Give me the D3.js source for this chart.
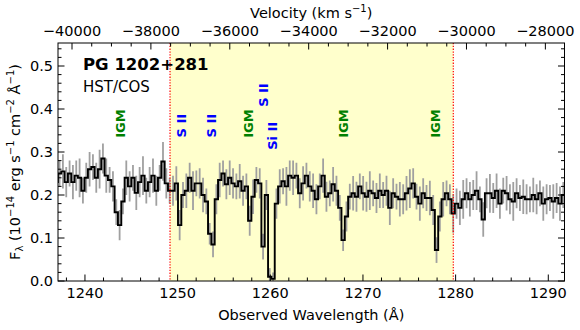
<!DOCTYPE html>
<html>
<head>
<meta charset="utf-8">
<script src="https://cdn.jsdelivr.net/npm/d3@7"></script>
<style>
  body { margin: 0; background: #fff; }
  text { font-family: "DejaVu Sans", sans-serif; fill: #000; }
</style>
</head>
<body>
<svg id="chart" width="580" height="330"></svg>
<script>
// flux binned on a regular wavelength grid
const lamStart = 1236.9, lamStep = 0.36;
const flux = [
  0.23, 0.25, 0.255, 0.23, 0.25, 0.23, 0.245, 0.24, 0.21, 0.24,
  0.26, 0.265, 0.24, 0.26, 0.285, 0.245, 0.235, 0.22, 0.16, 0.13,
  0.185, 0.24, 0.22, 0.24, 0.205, 0.23, 0.245, 0.21, 0.23, 0.245,
  0.21, 0.24, 0.278, 0.227, 0.21, 0.21, 0.227, 0.13, 0.2, 0.21,
  0.24, 0.21, 0.227, 0.227, 0.2, 0.185, 0.11, 0.085, 0.19, 0.235,
  0.25, 0.225,
  0.24, 0.227, 0.22, 0.232, 0.21, 0.22, 0.14, 0.196, 0.235, 0.227,
  0.08, 0.2, 0.01, 0.005,
  0.18, 0.22, 0.232, 0.22, 0.245, 0.24, 0.245, 0.204, 0.227, 0.245,
  0.22, 0.21, 0.19, 0.22, 0.245, 0.196, 0.204, 0.225, 0.21, 0.17,
  0.095, 0.15, 0.196, 0.204, 0.196, 0.22, 0.204, 0.196, 0.21, 0.204,
  0.193, 0.21, 0.2, 0.21, 0.17, 0.204, 0.196, 0.19,
  0.19, 0.204, 0.215, 0.227, 0.196, 0.18, 0.204, 0.193, 0.193, 0.165,
  0.072, 0.15, 0.19, 0.204, 0.19, 0.157, 0.18, 0.17, 0.19, 0.204,
  0.19, 0.2, 0.21, 0.19, 0.143, 0.204, 0.204, 0.193, 0.21, 0.18,
  0.21, 0.204, 0.19, 0.185, 0.204, 0.193, 0.196, 0.19, 0.19, 0.2,
  0.19, 0.204, 0.18, 0.19, 0.193, 0.185, 0.193, 0.18, 0.2, 0.196
];
const err = [
  0.035, 0.03, 0.04, 0.035, 0.03, 0.04, 0.035, 0.045, 0.03, 0.035,
  0.04, 0.03, 0.035, 0.045, 0.035, 0.04, 0.03, 0.035, 0.03, 0.035,
  0.03, 0.04, 0.035, 0.03, 0.04, 0.035, 0.045, 0.03, 0.035, 0.04,
  0.035, 0.03, 0.045, 0.035, 0.03, 0.035, 0.04, 0.035, 0.03, 0.04,
  0.035, 0.045, 0.03, 0.035, 0.04, 0.03, 0.025, 0.03, 0.035, 0.04,
  0.03, 0.035,
  0.04, 0.035, 0.03, 0.04, 0.035, 0.03, 0.035, 0.04, 0.03, 0.035,
  0.03, 0.035, 0.02, 0.015,
  0.035, 0.04, 0.03, 0.045, 0.035, 0.04, 0.03, 0.035, 0.04, 0.03,
  0.035, 0.04, 0.035, 0.03, 0.04, 0.035, 0.03, 0.04, 0.035, 0.03,
  0.025, 0.035, 0.03, 0.04, 0.035, 0.03, 0.04, 0.035, 0.045, 0.03,
  0.035, 0.04, 0.03, 0.035, 0.04, 0.035, 0.03, 0.04,
  0.035, 0.04, 0.045, 0.035, 0.03, 0.04, 0.035, 0.03, 0.04, 0.035,
  0.03, 0.035, 0.04, 0.03, 0.035, 0.045, 0.035, 0.04, 0.045, 0.035,
  0.04, 0.035, 0.045, 0.03, 0.04, 0.035, 0.045, 0.035, 0.04, 0.035,
  0.03, 0.04, 0.035, 0.045, 0.035, 0.03, 0.04, 0.035, 0.03, 0.04,
  0.035, 0.03, 0.04, 0.035, 0.03, 0.04, 0.035, 0.04, 0.03, 0.035
];

// line identifications
const lineNames = ["IGM", "S II", "S II", "IGM", "S II", "Si II", "IGM", "IGM"];
const lineWaves = [1243.78, 1250.44, 1253.67, 1257.62, 1259.24, 1260.26, 1267.88, 1277.77];
const lineLevels = [0.333, 0.334, 0.334, 0.333, 0.405, 0.305, 0.333, 0.333];
const lineKinds = ["igm", "ism", "ism", "igm", "ism", "ism", "igm", "igm"];

const shadeRange = [1249.18, 1279.75];
const waveTicks = [1240, 1250, 1260, 1270, 1280, 1290];
const velTicks = [-40000, -38000, -36000, -34000, -32000, -30000, -28000];
const fluxTicks = [0.0, 0.1, 0.2, 0.3, 0.4, 0.5];

const margin = {left: 58, right: 15.5, top: 43, bottom: 49};
const width = 580, height = 330;
const svg = d3.select("#chart");

let x = d3.scaleLinear()
    .domain([1237.09, 1291.75])
    .range([margin.left, width - margin.right]);
let xv = d3.scaleLinear()
    .domain([-40355, -27515])
    .range([margin.left, width - margin.right]);
let y = d3.scaleLinear()
    .domain([0, 0.5535])
    .range([height - margin.bottom, margin.top]);

const x0 = margin.left, x1 = width - margin.right;
const y0 = height - margin.bottom, y1 = margin.top;

svg.append("clipPath").attr("id", "clip")
  .append("rect")
    .attr("x", x0).attr("y", y1)
    .attr("width", x1 - x0).attr("height", y0 - y1);

// shaded window
svg.append("rect")
    .attr("x", x(shadeRange[0]))
    .attr("y", y1)
    .attr("width", x(shadeRange[1]) - x(shadeRange[0]))
    .attr("height", y0 - y1)
    .attr("fill", "#ffffcc");

const spec = flux.map((f, i) => ({w: lamStart + i * lamStep, f: f, e: err[i]}));

const plot = svg.append("g").attr("clip-path", "url(#clip)");

// error bars
plot.selectAll("line.err")
  .data(spec)
  .enter().append("line")
    .attr("class", "err")
    .attr("x1", d => x(d.w)).attr("x2", d => x(d.w))
    .attr("y1", d => y(d.f - d.e)).attr("y2", d => y(d.f + d.e))
    .attr("stroke", "#a0a0a0")
    .attr("stroke-width", 1.8);

plot.append("path")
    .datum(spec)
    .attr("fill", "none")
    .attr("stroke", "#000")
    .attr("stroke-width", 1.9)
    .attr("d", d3.line().curve(d3.curveStep).x(d => x(d.w)).y(d => y(d.f)));

// window edges
svg.selectAll("line.edge")
  .data(shadeRange)
  .enter().append("line")
    .attr("x1", d => x(d)).attr("x2", d => x(d))
    .attr("y1", y1).attr("y2", y0)
    .attr("stroke", "red")
    .attr("stroke-width", 1.2)
    .attr("stroke-dasharray", "1.3,1.5");

// line labels, rotated
svg.selectAll("text.ident")
  .data(lineNames)
  .enter().append("text")
    .attr("transform", (d, i) => "translate(" + x(lineWaves[i]) + "," + y(lineLevels[i]) + ") rotate(-90)")
    .attr("dy", "0.36em")
    .attr("font-size", 13)
    .attr("font-weight", "bold")
    .style("fill", (d, i) => lineKinds[i] === "igm" ? "#008000" : "#0000ff")
    .text(d => d);

// frame
svg.append("rect")
    .attr("x", x0).attr("y", y1)
    .attr("width", x1 - x0).attr("height", y0 - y1)
    .attr("fill", "none").attr("stroke", "#000").attr("stroke-width", 1);

// ticks (all pointing in)
const waveMinor = d3.range(1238, 1292, 2).filter(v => v % 10 !== 0);
const fluxMinor = d3.range(0.02, 0.55, 0.02).filter(v => Math.abs(v * 10 - Math.round(v * 10)) > 0.01);
const velMinor = d3.range(-40000, -27500, 500).filter(v => v % 2000 !== 0);

const ticks = svg.append("g").attr("stroke", "#000").attr("stroke-width", 1);
waveTicks.forEach(v => {
  ticks.append("line").attr("x1", x(v)).attr("x2", x(v)).attr("y1", y0).attr("y2", y0 - 6.5);
});
waveMinor.forEach(v => {
  ticks.append("line").attr("x1", x(v)).attr("x2", x(v)).attr("y1", y0).attr("y2", y0 - 3.5);
});
velTicks.forEach(v => {
  ticks.append("line").attr("x1", xv(v)).attr("x2", xv(v)).attr("y1", y1).attr("y2", y1 + 6.5);
});
velMinor.forEach(v => {
  ticks.append("line").attr("x1", xv(v)).attr("x2", xv(v)).attr("y1", y1).attr("y2", y1 + 3.5);
});
fluxTicks.forEach(v => {
  ticks.append("line").attr("x1", x0).attr("x2", x0 + 6.5).attr("y1", y(v)).attr("y2", y(v));
  ticks.append("line").attr("x1", x1).attr("x2", x1 - 6.5).attr("y1", y(v)).attr("y2", y(v));
});
fluxMinor.forEach(v => {
  ticks.append("line").attr("x1", x0).attr("x2", x0 + 3.5).attr("y1", y(v)).attr("y2", y(v));
  ticks.append("line").attr("x1", x1).attr("x2", x1 - 3.5).attr("y1", y(v)).attr("y2", y(v));
});

// tick labels
const fmtMinus = v => String(v).replace("-", "\u2212");
svg.selectAll("text.wl")
  .data(waveTicks)
  .enter().append("text")
    .attr("x", d => x(d)).attr("y", y0 + 17)
    .attr("text-anchor", "middle").attr("font-size", 14.5)
    .text(d => d);
svg.selectAll("text.vl")
  .data(velTicks)
  .enter().append("text")
    .attr("x", d => xv(d)).attr("y", y1 - 7)
    .attr("text-anchor", "middle").attr("font-size", 14.5)
    .text(d => fmtMinus(d));
svg.selectAll("text.fl")
  .data(fluxTicks)
  .enter().append("text")
    .attr("x", x0 - 5).attr("y", d => y(d))
    .attr("dy", "0.36em")
    .attr("text-anchor", "end").attr("font-size", 14.5)
    .text(d => d.toFixed(1));

// axis titles
svg.append("text")
    .attr("x", (x0 + x1) / 2).attr("y", 320)
    .attr("text-anchor", "middle").attr("font-size", 14.5)
    .text("Observed Wavelength (Å)");

const tt = svg.append("text")
    .attr("x", (x0 + x1) / 2).attr("y", 18)
    .attr("text-anchor", "middle").attr("font-size", 14.5);
tt.append("tspan").text("Velocity (km s");
tt.append("tspan").attr("dy", -6).attr("font-size", 10).text("\u22121");
tt.append("tspan").attr("dy", 6).text(")");

const yl = svg.append("text")
    .attr("transform", "translate(20," + ((y0 + y1) / 2) + ") rotate(-90)")
    .attr("text-anchor", "middle").attr("font-size", 14.5);
yl.append("tspan").text("F");
yl.append("tspan").attr("dy", 3).attr("font-size", 10).text("λ");
yl.append("tspan").attr("dy", -3).text(" (10");
yl.append("tspan").attr("dy", -6).attr("font-size", 10).text("\u221214");
yl.append("tspan").attr("dy", 6).text(" erg s");
yl.append("tspan").attr("dy", -6).attr("font-size", 10).text("\u22121");
yl.append("tspan").attr("dy", 6).text(" cm");
yl.append("tspan").attr("dy", -6).attr("font-size", 10).text("\u22122");
yl.append("tspan").attr("dy", 6).text(" Å");
yl.append("tspan").attr("dy", -6).attr("font-size", 10).text("\u22121");
yl.append("tspan").attr("dy", 6).text(")");

// object name
svg.append("text")
    .attr("x", 83).attr("y", 70)
    .attr("font-size", 16.5).attr("font-weight", "bold")
    .text("PG 1202+281");
svg.append("text")
    .attr("x", 83).attr("y", 92)
    .attr("font-size", 15)
    .text("HST/COS");
</script>
</body>
</html>
